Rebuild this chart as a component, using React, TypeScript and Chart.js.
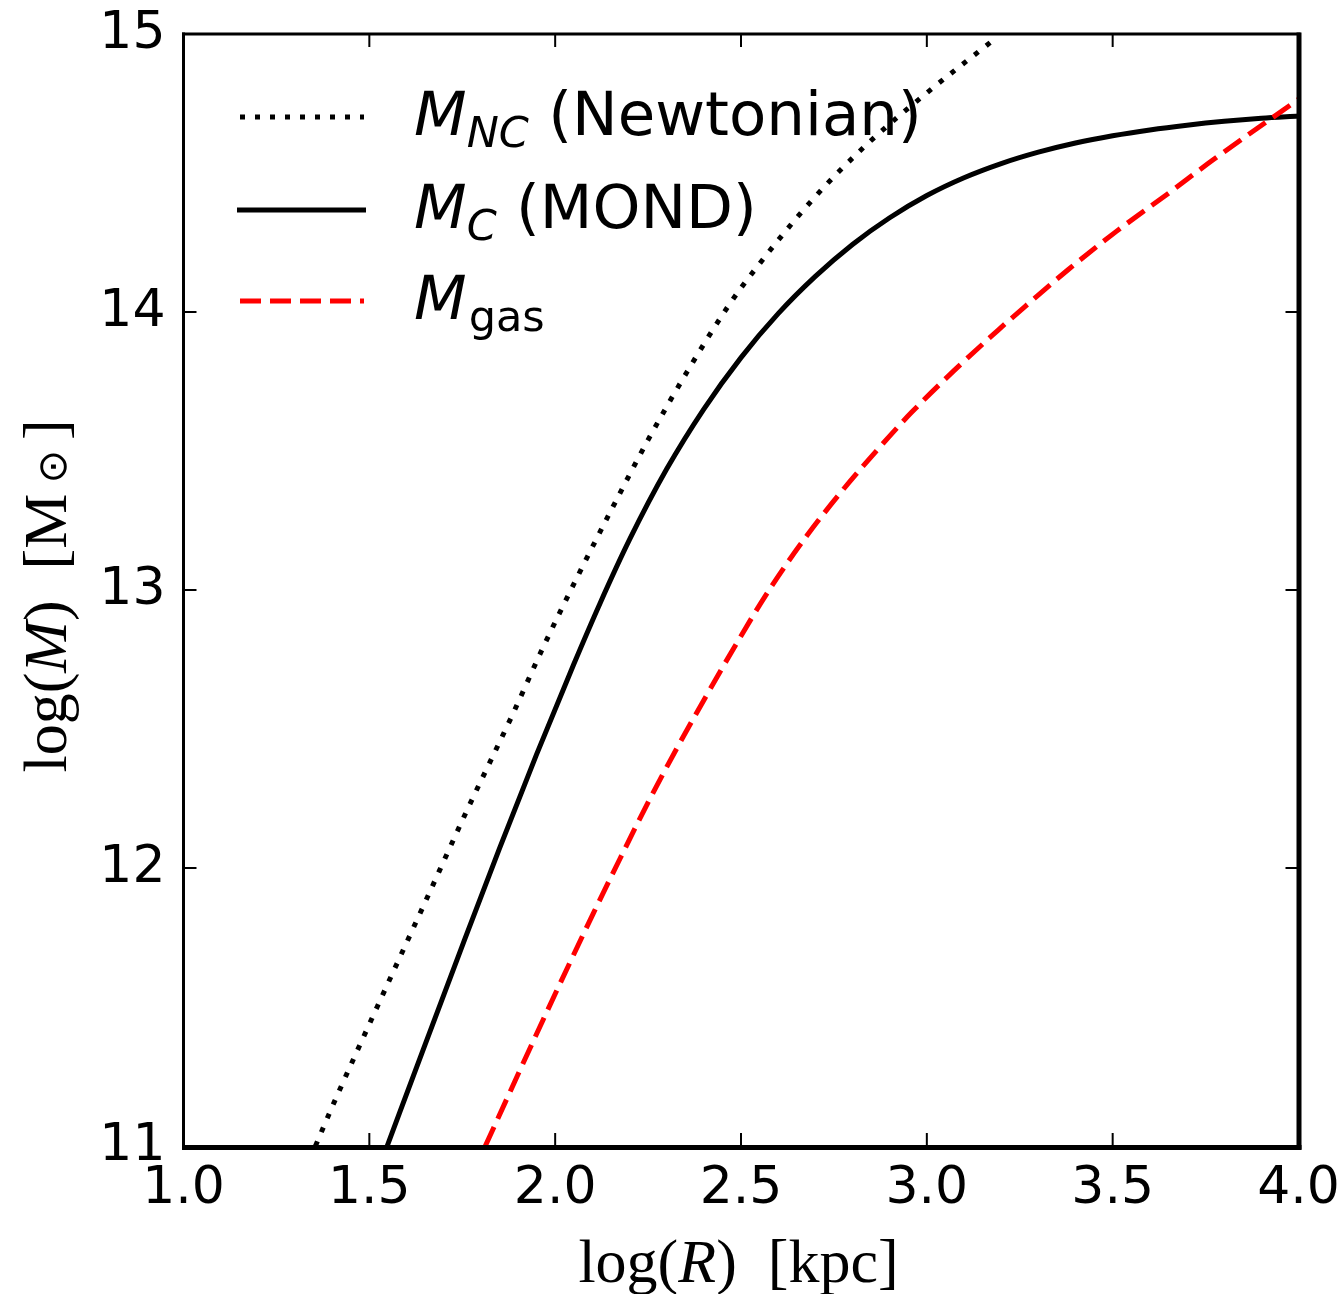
import React, { useEffect, useRef } from "react";
import { Chart, registerables } from "chart.js";

Chart.register(...registerables);

// ---- data (log R [kpc], log M [Msun]) ----
const ncLogR = [1.355, 1.403, 1.521, 1.645, 1.763, 1.884, 1.968, 2.059, 2.153, 2.25, 2.355, 2.465, 2.539, 2.693, 2.841, 2.997, 3.19];
const ncLogM = [11.0, 11.15, 11.5, 11.862, 12.208, 12.548, 12.795, 13.045, 13.293, 13.54, 13.785, 14.02, 14.155, 14.405, 14.606, 14.785, 14.99];

const mondLogR = [1.548, 1.65, 1.75, 1.85, 1.95, 2.05, 2.12, 2.2, 2.3, 2.4, 2.5, 2.6, 2.7, 2.8, 2.9, 3.0, 3.1, 3.2, 3.3, 3.4, 3.5, 3.6, 3.7, 3.8, 3.9, 4.0];
const mondLogM = [11.0, 11.365, 11.72, 12.07, 12.409, 12.733, 12.95, 13.181, 13.435, 13.651, 13.836, 13.994, 14.128, 14.243, 14.339, 14.419, 14.483, 14.534, 14.575, 14.608, 14.634, 14.655, 14.672, 14.686, 14.697, 14.705];

const gasLogR = [1.812, 1.968, 2.102, 2.175, 2.247, 2.328, 2.409, 2.489, 2.578, 2.677, 2.774, 2.882, 2.959, 3.073, 3.192, 3.254, 3.38, 3.51, 3.644, 3.774, 4.0];
const gasLogM = [11.0, 11.455, 11.835, 12.035, 12.228, 12.432, 12.625, 12.81, 13.005, 13.195, 13.36, 13.527, 13.639, 13.789, 13.935, 14.008, 14.152, 14.29, 14.421, 14.551, 14.765];

const xMin = 1.0, xMax = 4.0, xStep = 0.5;
const yMin = 11, yMax = 15, yStep = 1;

const toPts = (xs: number[], ys: number[]) => xs.map((x, i) => ({ x, y: ys[i] }));

type Run = { t: string; f: string; dy?: number; dx?: number };

function runsWidth(ctx: CanvasRenderingContext2D, runs: Run[]) {
  let w = 0;
  for (const r of runs) {
    ctx.font = r.f;
    w += (r.dx || 0) + ctx.measureText(r.t).width;
  }
  return w;
}

function drawRuns(ctx: CanvasRenderingContext2D, runs: Run[], x: number, y: number) {
  let cx = x;
  ctx.textAlign = "left";
  ctx.textBaseline = "alphabetic";
  for (const r of runs) {
    ctx.font = r.f;
    cx += r.dx || 0;
    ctx.fillText(r.t, cx, y + (r.dy || 0));
    cx += ctx.measureText(r.t).width;
  }
}

const zeroPad = (s: any) => {
  s.paddingLeft = 0;
  s.paddingRight = 0;
  s.paddingTop = 0;
  s.paddingBottom = 0;
};

const overlay = {
  id: "overlay",
  afterDatasetsDraw(chart: any) {
    const { ctx, chartArea: a, scales } = chart;
    const xs = scales.x, ys = scales.y;
    ctx.save();
    ctx.strokeStyle = "#000";
    ctx.fillStyle = "#000";
    ctx.setLineDash([]);
    const line = (x1: number, y1: number, x2: number, y2: number) => {
      ctx.beginPath();
      ctx.moveTo(x1, y1);
      ctx.lineTo(x2, y2);
      ctx.stroke();
    };
    // inward ticks
    ctx.lineWidth = 2;
    const tl = 13;
    xs.ticks.forEach((t: any) => {
      const px = xs.getPixelForValue(t.value);
      line(px, a.bottom, px, a.bottom - tl);
      line(px, a.top, px, a.top + tl);
    });
    ys.ticks.forEach((t: any) => {
      const py = ys.getPixelForValue(t.value);
      line(a.left, py, a.left + tl, py);
      line(a.right, py, a.right - tl, py);
    });
    // frame
    ctx.lineWidth = 3;
    line(a.left, a.top - 1.5, a.left, a.bottom + 2);
    line(a.left - 1.5, a.top, a.right + 2, a.top);
    ctx.lineWidth = 5;
    line(a.right + 0.5, a.top - 1.5, a.right + 0.5, a.bottom + 3.5);
    line(a.left - 1.5, a.bottom + 1.5, a.right + 3, a.bottom + 1.5);

    // legend
    const items = [
      { y: 117, color: "#000", dash: [5, 10], runs: [
        { t: "M", f: "italic 61px 'DejaVu Sans'" },
        { t: "NC", f: "italic 43px 'DejaVu Sans'", dy: 12 },
        { t: " (Newtonian)", f: "61px 'DejaVu Sans'" },
      ] as Run[] },
      { y: 210, color: "#000", dash: [], runs: [
        { t: "M", f: "italic 61px 'DejaVu Sans'" },
        { t: "C", f: "italic 43px 'DejaVu Sans'", dy: 12 },
        { t: " (MOND)", f: "61px 'DejaVu Sans'" },
      ] as Run[] },
      { y: 301, color: "#ff0000", dash: [21, 9], runs: [
        { t: "M", f: "italic 61px 'DejaVu Sans'" },
        { t: "gas", f: "43px 'DejaVu Sans'", dy: 12, dx: 2 },
      ] as Run[] },
    ];
    items.forEach((it) => {
      ctx.strokeStyle = it.color;
      ctx.lineWidth = 5;
      ctx.lineCap = "butt";
      ctx.setLineDash(it.dash);
      line(it.dash.length ? 240 : 237, it.y, it.dash.length ? 364 : 366, it.y);
      ctx.setLineDash([]);
      ctx.fillStyle = "#000";
      drawRuns(ctx, it.runs, 414, it.y + 18);
    });

    // x title
    const xRuns: Run[] = [
      { t: "log(", f: "62px 'Liberation Serif'" },
      { t: "R", f: "italic 62px 'Liberation Serif'" },
      { t: ")  [kpc]", f: "62px 'Liberation Serif'" },
    ];
    const xw = runsWidth(ctx, xRuns);
    drawRuns(ctx, xRuns, 738.5 - xw / 2, 1282);

    // y title
    const yRuns: Run[] = [
      { t: "log(", f: "62px 'Liberation Serif'" },
      { t: "M", f: "italic 62px 'Liberation Serif'" },
      { t: ")  [M", f: "62px 'Liberation Serif'" },
      { t: "⊙", f: "40px 'DejaVu Sans'", dx: 10 },
      { t: "]", f: "62px 'Liberation Serif'", dx: 10 },
    ];
    ctx.translate(66, 596);
    ctx.rotate(-Math.PI / 2);
    const yw = runsWidth(ctx, yRuns);
    drawRuns(ctx, yRuns, -yw / 2, 0);
    ctx.restore();
  },
};

export default function App() {
  const ref = useRef<HTMLCanvasElement>(null);
  useEffect(() => {
    document.body.style.margin = "0";
    const canvas = ref.current!;
    const common = { pointRadius: 0, borderWidth: 5, fill: false, clip: 0, borderCapStyle: "butt" as const, cubicInterpolationMode: "monotone" as const };
    const chart = new Chart(canvas, {
      type: "line",
      data: {
        datasets: [
          { label: "M_NC (Newtonian)", data: toPts(ncLogR, ncLogM), borderColor: "#000", borderDash: [5, 10], order: 2, ...common },
          { label: "M_C (MOND)", data: toPts(mondLogR, mondLogM), borderColor: "#000", order: 1, ...common },
          { label: "M_gas", data: toPts(gasLogR, gasLogM), borderColor: "#ff0000", borderDash: [21, 9], order: 0, ...common },
        ],
      },
      options: {
        animation: false,
        responsive: false,
        devicePixelRatio: 1,
        layout: { padding: { left: 0, top: 34, right: 43.5, bottom: 0 } },
        plugins: { legend: { display: false }, tooltip: { enabled: false }, title: { display: false } },
        scales: {
          x: {
            type: "linear",
            position: "bottom",
            min: xMin,
            max: xMax,
            grid: { display: false, drawTicks: false },
            border: { display: false },
            ticks: {
              stepSize: xStep,
              autoSkip: false,
              maxRotation: 0,
              padding: 12,
              color: "#000",
              font: { family: "'DejaVu Sans'", size: 52 },
              callback: (v: any) => Number(v).toFixed(1),
            },
            afterFit: (s: any) => { s.height = 148; zeroPad(s); },
          },
          y: {
            type: "linear",
            position: "left",
            min: yMin,
            max: yMax,
            grid: { display: false, drawTicks: false },
            border: { display: false },
            ticks: {
              stepSize: yStep,
              autoSkip: false,
              padding: 18,
              color: "#000",
              font: { family: "'DejaVu Sans'", size: 52 },
              callback: (v: any) => String(v),
            },
            afterFit: (s: any) => { s.width = 183.5; zeroPad(s); },
          },
        },
      },
      plugins: [overlay],
    });
    const fontsReady = (document as any).fonts;
    if (fontsReady && fontsReady.load) {
      Promise.all([
        fontsReady.load("52px 'DejaVu Sans'"),
        fontsReady.load("italic 60px 'DejaVu Sans'"),
        fontsReady.load("62px 'Liberation Serif'"),
        fontsReady.load("italic 62px 'Liberation Serif'"),
      ]).then(() => chart.update()).catch(() => {});
    }
    return () => chart.destroy();
  }, []);
  return (
    <div style={{ width: 1342, height: 1294 }}>
      <canvas ref={ref} width={1342} height={1294} style={{ display: "block" }} />
    </div>
  );
}
